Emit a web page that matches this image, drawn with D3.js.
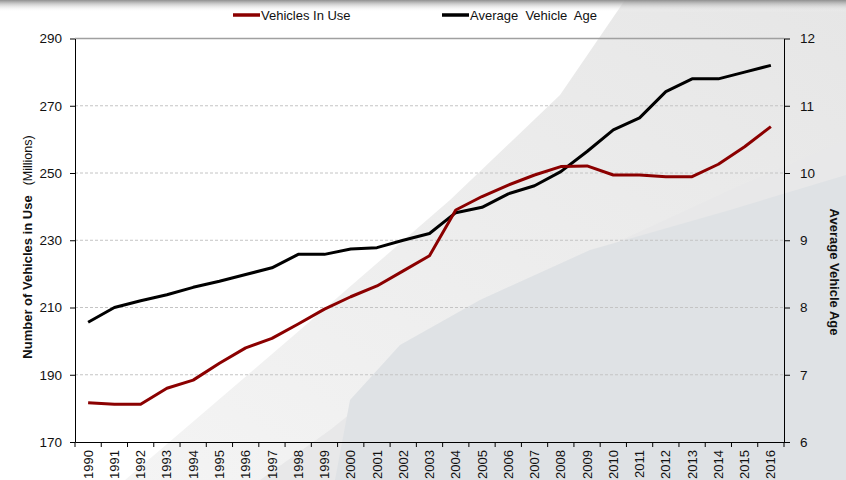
<!DOCTYPE html>
<html>
<head>
<meta charset="utf-8">
<script src="https://cdn.jsdelivr.net/npm/d3@7"></script>
<style>
  html, body { margin: 0; padding: 0; background: #fff; }
  svg { display: block; font-family: "Liberation Sans", Arial, sans-serif; }
</style>
</head>
<body>
<svg id="chart" width="846" height="480"></svg>
<script>
const years = d3.range(1990, 2017);
const vehiclesInUse = [181.7, 181.2, 181.2, 186.0, 188.4, 193.4, 198.0, 200.8, 205.1, 209.5,
    213.2, 216.4, 220.9, 225.4, 239.0, 243.0, 246.4, 249.4, 251.9, 252.1,
    249.4, 249.4, 248.9, 248.9, 252.6, 257.8, 263.8];
const averageAge = [7.78, 8.0, 8.1, 8.19, 8.3, 8.39, 8.49, 8.59, 8.79, 8.79,
    8.87, 8.89, 9.0, 9.1, 9.41, 9.49, 9.69, 9.81, 10.02, 10.32,
    10.64, 10.82, 11.21, 11.4, 11.4, 11.5, 11.6];
const leftTicks = [170, 190, 210, 230, 250, 270, 290];
const rightTicks = [6, 7, 8, 9, 10, 11, 12];

const W = 846, H = 480;
const plotLeft = 75, plotRight = 784, plotTop = 38.5, plotBottom = 442;
const RED = '#8b0000';

const svg = d3.select('#chart');
const defs = svg.append('defs');

// decorative backdrop
const g1 = defs.append('linearGradient').attr('id', 'band').attr('x1', 0).attr('y1', 1).attr('x2', 1).attr('y2', 0);
g1.append('stop').attr('offset', 0).attr('stop-color', '#f4f4f4');
g1.append('stop').attr('offset', 1).attr('stop-color', '#e6e6e6');
const g2 = defs.append('linearGradient').attr('id', 'shade').attr('x1', 0).attr('y1', 0).attr('x2', 0).attr('y2', 1);
g2.append('stop').attr('offset', 0).attr('stop-color', '#8f8f8f');
g2.append('stop').attr('offset', 1).attr('stop-color', '#ffffff').attr('stop-opacity', 0);

const bg = svg.append('g');
bg.append('rect').attr('width', W).attr('height', H).attr('fill', '#ffffff');
bg.append('polygon')
    .attr('points', [[125, 480], [300, 330], [450, 200], [560, 95], [625, 0], [846, 0], [846, 480]].join(' '))
    .attr('fill', 'url(#band)');
bg.append('polygon')
    .attr('points', [[260, 480], [330, 430], [480, 310], [600, 250], [730, 190], [846, 140], [846, 480]].join(' '))
    .attr('fill', '#e8e8e9');
bg.append('polygon')
    .attr('points', [[335, 480], [350, 400], [400, 345], [480, 300], [590, 250], [730, 210], [846, 175], [846, 480]].join(' '))
    .attr('fill', '#dfe2e5');
bg.append('rect').attr('x', 0).attr('y', 0).attr('width', W).attr('height', 12).attr('fill', 'url(#shade)');

// scales
const x = d3.scaleBand().domain(years).range([plotLeft, plotRight]).padding(0);
const yL = d3.scaleLinear().domain([170, 290]).range([plotBottom, plotTop]);
const yR = d3.scaleLinear().domain([6, 12]).range([plotBottom, plotTop]);
const cx = d => x(d) + x.bandwidth() / 2;

// gridlines
svg.append('g')
    .selectAll('line')
    .data(leftTicks.slice(1))
    .enter()
    .append('line')
    .attr('x1', plotLeft).attr('x2', plotRight)
    .attr('y1', d => yL(d)).attr('y2', d => yL(d))
    .attr('stroke', d => d === 290 ? '#a0a0a0' : '#c4c4c4')
    .attr('stroke-width', d => d === 290 ? 1.5 : 1)
    .attr('stroke-dasharray', d => d === 290 ? null : '3,2');

// axes
const axisL = svg.append('g')
    .attr('transform', `translate(${plotLeft},0)`)
    .call(d3.axisLeft(yL).tickValues(leftTicks).tickSize(5).tickSizeOuter(0).tickPadding(8));
const axisR = svg.append('g')
    .attr('transform', `translate(${plotRight},0)`)
    .call(d3.axisRight(yR).tickValues(rightTicks).tickFormat(d3.format('d')).tickSize(6).tickSizeOuter(0).tickPadding(10));
[axisL, axisR].forEach(a => {
    a.selectAll('text').attr('font-size', 13.5).attr('fill', '#111').style('font-family', '"Liberation Sans", Arial, sans-serif');
    a.selectAll('line, path').attr('stroke', '#000');
});

const axisB = svg.append('g')
    .attr('transform', `translate(0,${plotBottom})`)
    .call(d3.axisBottom(x).tickSize(0).tickSizeOuter(0));
axisB.select('path').attr('stroke', '#000');
axisB.selectAll('text')
    .attr('transform', 'rotate(-90)')
    .attr('text-anchor', 'end')
    .attr('dy', '0.35em')
    .attr('x', -8)
    .attr('y', 0)
    .attr('font-size', 13)
    .attr('fill', '#111')
    .style('font-family', '"Liberation Sans", Arial, sans-serif');
axisB.append('g')
    .selectAll('line')
    .data(years.map(d => x(d)).concat([plotRight]))
    .enter()
    .append('line')
    .attr('x1', d => d).attr('x2', d => d)
    .attr('y1', 0).attr('y2', 5)
    .attr('stroke', '#000');

// lines
const redLine = d3.line().x((d, i) => cx(years[i])).y(d => yL(d));
const blackLine = d3.line().x((d, i) => cx(years[i])).y(d => yR(d));
svg.append('path').datum(averageAge)
    .attr('d', blackLine).attr('fill', 'none')
    .attr('stroke', '#000').attr('stroke-width', 3).attr('stroke-linejoin', 'round');
svg.append('path').datum(vehiclesInUse)
    .attr('d', redLine).attr('fill', 'none')
    .attr('stroke', RED).attr('stroke-width', 3).attr('stroke-linejoin', 'round');

// axis titles
const titleL = svg.append('text')
    .attr('transform', 'translate(32,247) rotate(-90)')
    .attr('text-anchor', 'middle')
    .attr('font-size', 13)
    .attr('fill', '#111');
titleL.append('tspan').attr('font-weight', 'bold').text('Number of Vehicles in Use');
titleL.append('tspan').attr('dx', 10).attr('font-size', 12.5).text('(Millions)');

svg.append('text')
    .attr('transform', 'translate(830,272) rotate(90)')
    .attr('text-anchor', 'middle')
    .attr('font-size', 13)
    .attr('font-weight', 'bold')
    .attr('fill', '#111')
    .text('Average Vehicle Age');

// legend
const legend = [
    { label: 'Vehicles In Use', color: RED, x: 233 },
    { label: 'Average  Vehicle  Age', color: '#000', x: 442 }
];
const items = svg.append('g')
    .selectAll('g')
    .data(legend)
    .enter()
    .append('g')
    .attr('transform', d => `translate(${d.x},15)`);
items.append('line')
    .attr('x1', 0).attr('x2', 27).attr('y1', 0).attr('y2', 0)
    .attr('stroke', d => d.color).attr('stroke-width', 3.5);
items.append('text')
    .attr('x', 28).attr('dy', '0.35em')
    .attr('font-size', 13)
    .attr('fill', '#111')
    .style('white-space', 'pre')
    .text(d => d.label);
</script>
</body>
</html>
